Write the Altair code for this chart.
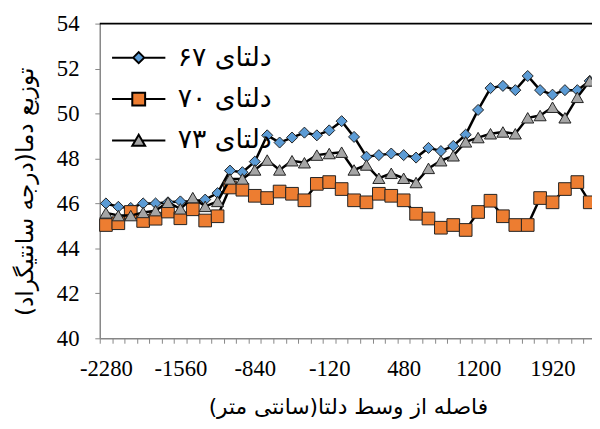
import altair as alt
import pandas as pd

series_names = ["دلتای ۶۷", "دلتای ۷۰", "دلتای ۷۳"]
tick_labels = ["-2280", "-1560", "-840", "-120", "480", "1200", "1920"]
tick_label_index = [0, 6, 12, 18, 24, 30, 36]

delta67 = [46.0, 45.85, 45.8, 46.0, 46.0, 46.05, 46.09, 46.1, 46.17, 46.46,
           47.46, 47.39, 47.86, 49.03, 48.71, 48.93, 49.15, 49.03, 49.25, 49.66,
           48.96, 48.08, 48.15, 48.22, 48.15, 48.04, 48.47, 48.33, 48.56, 49.06,
           50.16, 51.13, 51.23, 51.04, 51.67, 51.04, 50.84, 51.04, 51.04, 51.45]
delta70 = [45.04, 45.12, 45.62, 45.22, 45.32, 45.64, 45.34, 45.74, 45.24, 45.43,
           46.71, 46.61, 46.34, 46.24, 46.53, 46.43, 46.14, 46.87, 46.95, 46.64,
           46.14, 46.05, 46.43, 46.34, 46.14, 45.54, 45.33, 44.92, 45.04, 44.82,
           45.62, 46.12, 45.43, 45.04, 45.04, 46.24, 46.05, 46.64, 46.95, 46.05]
delta73 = [45.58, 45.46, 45.46, 45.6, 45.68, 46.05, 45.76, 46.26, 45.87, 46.09,
           47.09, 47.09, 47.49, 47.93, 47.49, 47.90, 47.81, 48.15, 48.22, 48.28,
           47.49, 47.71, 47.12, 47.34, 47.12, 46.93, 47.56, 47.90, 48.12, 48.74,
           48.93, 49.10, 49.18, 49.10, 49.81, 49.91, 50.28, 49.81, 50.72, 51.45]

x_title = "فاصله از وسط دلتا(سانتی متر)\u200f"
y_title = "توزیع دما(درجه سانتیگراد)\u200f"

colors = ["#5B9BD5", "#ED7D31", "#A5A5A5"]
shapes = ["diamond", "square", "triangle-up"]
sizes = [125, 165, 150]
legend_paths = [
    "M-3.86,0H-0.8M0.8,0H3.86M0,-0.8L0.8,0L0,0.8L-0.8,0Z",
    "M-3.86,0H-0.93M0.93,0H3.86M-0.93,-0.93H0.93V0.93H-0.93Z",
    "M-3.86,0H-0.5M0.5,0H3.86M0,-0.85L0.93,0.75H-0.93Z",
]

rows = []
for name, vals in zip(series_names, [delta67, delta70, delta73]):
    for i, v in enumerate(vals):
        rows.append({"idx": i, "temp": v, "series": name})
df = pd.DataFrame(rows)

n_cat = 40
step = 12.575
x_scale = alt.Scale(domain=[-0.5, n_cat - 0.5], range=[0, step * n_cat], nice=False, zero=False)
y_scale = alt.Scale(domain=[40, 54], nice=False, zero=False)

label_expr = " : ".join(f"datum.value == {i} ? '{t}'" for i, t in zip(tick_label_index, tick_labels)) + " : ''"

x_enc = alt.X("idx:Q", scale=x_scale, axis=alt.Axis(
    values=list(range(n_cat)), tickOffset=-step / 2, labelOffset=step / 2,
    labelExpr=label_expr, labelOverlap=False, labelFlush=False, labelBound=False,
    tickSize=5, labelPadding=15, grid=False,
    domainColor="#868686", tickColor="#868686", domainWidth=1.5,
    labelFont="Liberation Serif", labelFontSize=23, labelColor="black",
    title=x_title, titleFont="DejaVu Sans", titleFontSize=22, titleFontWeight="normal",
    titleColor="black", titleY=76, titleBaseline="alphabetic"))
y_enc = alt.Y("temp:Q", scale=y_scale, axis=alt.Axis(
    values=[40, 42, 44, 46, 48, 50, 52, 54], tickSize=5, labelPadding=16, grid=False,
    domainColor="#868686", tickColor="#868686", domainWidth=1.5,
    labelFont="Liberation Serif", labelFontSize=23, labelColor="black",
    title=y_title, titleFont="DejaVu Sans", titleFontSize=23.5, titleFontWeight="normal",
    titleColor="black", titleAngle=270, titleX=-68, titleY=170, titleBaseline="alphabetic"))

legend = alt.Legend(
    title=None, orient="none", legendX=26, legendY=21, padding=0,
    symbolSize=196, symbolStrokeColor="black", symbolStrokeWidth=2, symbolOpacity=1,
    labelFont="DejaVu Sans", labelFontSize=27, labelColor="black",
    labelOffset=26, rowPadding=14)

layers = []
for k, name in enumerate(series_names):
    base = alt.Chart(df).transform_filter(alt.datum.series == name)
    layers.append(base.mark_line(color="black", strokeWidth=2.5).encode(x=x_enc, y=y_enc))
    layers.append(base.mark_point(shape=shapes[k], size=sizes[k], filled=True, opacity=1,
                                  fill=colors[k], stroke="#222222", strokeWidth=1).encode(
        x=x_enc, y=y_enc))

legend_layer = alt.Chart(df).mark_point(size=196, strokeWidth=2, opacity=1).encode(
    x=x_enc, y=y_enc,
    opacity=alt.value(0),
    fill=alt.Fill("series:N", scale=alt.Scale(domain=series_names, range=colors), legend=legend),
    stroke=alt.Stroke("series:N", scale=alt.Scale(domain=series_names, range=["black"] * 3), legend=legend),
    shape=alt.Shape("series:N", scale=alt.Scale(domain=series_names, range=legend_paths), legend=legend))

border = alt.Chart(pd.DataFrame({"a": [0]})).mark_rule(color="black", strokeWidth=2).encode(
    x=alt.value(0), x2=alt.value(step * n_cat), y=alt.value(0))

chart = alt.layer(legend_layer, *layers, border).properties(
    width=499, height=319,
    autosize=alt.AutoSizeParams(type="none"),
    padding={"left": 93, "top": 13, "right": 0, "bottom": 81},
).configure_view(stroke=None)

chart.save("out.html", embed_options={"renderer": "svg", "actions": False})
